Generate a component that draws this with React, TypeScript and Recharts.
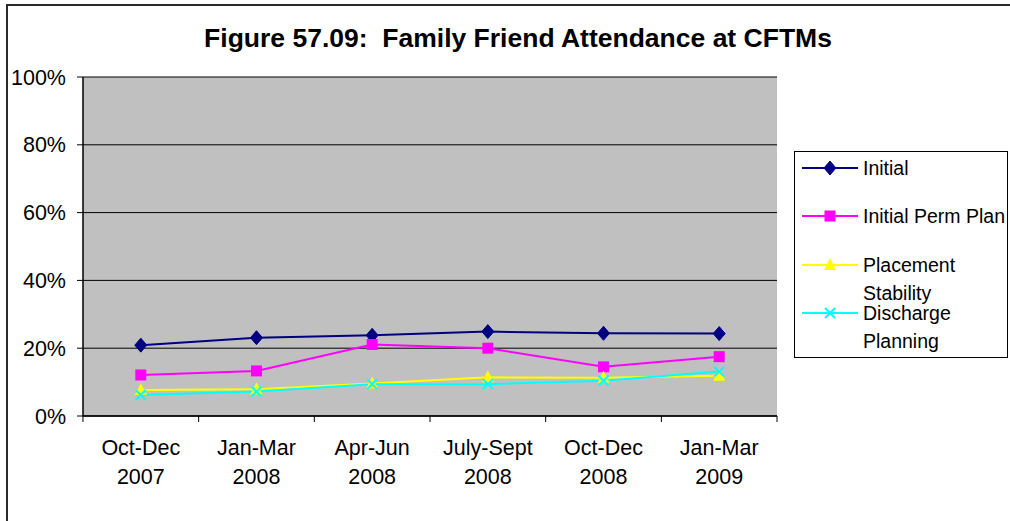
import { LineChart, Line, XAxis, YAxis, CartesianGrid } from 'recharts';

// quarters shown along the bottom axis
const periods = ['Oct-Dec 2007', 'Jan-Mar 2008', 'Apr-Jun 2008', 'July-Sept 2008', 'Oct-Dec 2008', 'Jan-Mar 2009'];

// percent of meetings with family friend present
const initial = [20.9, 23.1, 23.8, 24.9, 24.4, 24.3];
const initialPermPlan = [12.1, 13.3, 21.1, 20.0, 14.5, 17.5];
const placementStability = [7.7, 7.9, 9.6, 11.4, 11.3, 11.9];
const dischargePlanning = [6.2, 7.2, 9.4, 9.4, 10.4, 13.1];

const yTicks = [0, 20, 40, 60, 80, 100];

const seriesNames = ['Initial', 'Initial Perm Plan', 'Placement Stability', 'Discharge Planning'];
const seriesKeys = ['initial', 'permPlan', 'placement', 'discharge'];
const seriesColors = ['#000080', '#FF00FF', '#FFFF00', '#00FFFF'];

const data = periods.map((p, i) => ({
  period: p,
  initial: initial[i],
  permPlan: initialPermPlan[i],
  placement: placementStability[i],
  discharge: dischargePlanning[i],
}));

const FONT = '"Liberation Sans", Arial, sans-serif';

const drawMarker = (kind: number, cx: number, cy: number, key?: any) => {
  const color = seriesColors[kind];
  if (kind === 0) {
    return (
      <polygon key={key} points={`${cx},${cy - 7} ${cx + 6},${cy} ${cx},${cy + 7} ${cx - 6},${cy}`} fill={color} stroke={color} />
    );
  }
  if (kind === 1) {
    return <rect key={key} x={cx - 5.5} y={cy - 5.5} width={11} height={11} fill={color} />;
  }
  if (kind === 2) {
    return (
      <polygon key={key} points={`${cx},${cy - 7} ${cx + 6},${cy + 5} ${cx - 6},${cy + 5}`} fill={color} />
    );
  }
  return (
    <g key={key}>
      <line x1={cx - 5} y1={cy - 5} x2={cx + 5} y2={cy + 5} stroke={color} strokeWidth={2} />
      <line x1={cx - 5} y1={cy + 5} x2={cx + 5} y2={cy - 5} stroke={color} strokeWidth={2} />
    </g>
  );
};

// category label in two lines, plus the tick marks that sit between categories
const XTick = (props: any) => {
  const { x, y, payload, width, visibleTicksCount, index } = props;
  const [top, bottom] = String(payload.value).split(' ');
  const half = width / visibleTicksCount / 2;
  const axisY = y - 8;
  return (
    <g>
      <line x1={x - half} x2={x - half} y1={axisY} y2={axisY + 6} stroke="#000" />
      {index === visibleTicksCount - 1 && (
        <line x1={x + half} x2={x + half} y1={axisY} y2={axisY + 6} stroke="#000" />
      )}
      <text x={x} y={y} textAnchor="middle" fontSize={21.5} fill="#000" fontFamily={FONT}>
        <tspan x={x} dy={31}>{top}</tspan>
        <tspan x={x} dy={29}>{bottom}</tspan>
      </text>
    </g>
  );
};

const LegendBox = () => (
  <div
    style={{
      position: 'absolute',
      left: 794,
      top: 151,
      width: 214,
      height: 207,
      border: '1px solid #000',
      background: '#fff',
      boxSizing: 'border-box',
      fontFamily: FONT,
      fontSize: 19.5,
    }}
  >
    {seriesNames.map((name, i) => {
      const cy = 16 + i * 48.3;
      return (
        <div key={name}>
          <svg width={56} height={16} style={{ position: 'absolute', left: 7, top: cy - 8 }}>
            <line x1={0} y1={8} x2={56} y2={8} stroke={seriesColors[i]} strokeWidth={2} />
            {drawMarker(i, 28, 8)}
          </svg>
          <div style={{ position: 'absolute', left: 68, top: cy - 14, width: 148, lineHeight: '28px' }}>{name}</div>
        </div>
      );
    })}
  </div>
);

export default function App() {
  return (
    <div style={{ position: 'absolute', left: 0, top: 0, width: 1010, height: 521, background: '#fff', overflow: 'hidden' }}>
      <div style={{ position: 'absolute', left: 6, top: 4, width: 1100, height: 600, border: '2px solid #2a2a2a' }} />
      <div
        style={{
          position: 'absolute',
          left: 0,
          top: 23,
          width: 1036,
          textAlign: 'center',
          fontFamily: FONT,
          fontWeight: 'bold',
          fontSize: 26.5,
          lineHeight: 'normal',
          whiteSpace: 'pre',
        }}
      >
        {'Figure 57.09:  Family Friend Attendance at CFTMs'}
      </div>
      <div style={{ position: 'absolute', left: 0, top: 0 }}>
        <LineChart width={1010} height={521} data={data} margin={{ top: 77, right: 233, bottom: 25, left: 0 }}>
          <CartesianGrid vertical={false} stroke="#000" fill="#C0C0C0" />
          <XAxis
            dataKey="period"
            interval={0}
            height={80}
            padding={{ left: 57.8, right: 57.8 }}
            axisLine={{ stroke: '#000', strokeWidth: 1.5 }}
            tickLine={false}
            tickSize={6}
            tick={<XTick />}
          />
          <YAxis
            width={83}
            domain={[0, 100]}
            ticks={yTicks}
            tickFormatter={(v) => `${v}%`}
            axisLine={{ stroke: '#000', strokeWidth: 1.5 }}
            tickLine={{ stroke: '#000' }}
            tickSize={6}
            tickMargin={11}
            tick={{ fill: '#000', fontSize: 21.5, fontFamily: FONT }}
          />
          <YAxis
            yAxisId="frame"
            orientation="right"
            width={0}
            domain={[0, 100]}
            tick={false}
            tickLine={false}
            axisLine={{ stroke: '#808080', strokeWidth: 1.5 }}
          />
          {seriesKeys.map((k, i) => (
            <Line
              key={k}
              dataKey={k}
              name={seriesNames[i]}
              stroke={seriesColors[i]}
              strokeWidth={2}
              isAnimationActive={false}
              dot={(p: any) => drawMarker(i, p.cx, p.cy, p.key ?? `${k}-${p.index}`)}
              activeDot={false}
            />
          ))}
        </LineChart>
      </div>
      <LegendBox />
    </div>
  );
}
